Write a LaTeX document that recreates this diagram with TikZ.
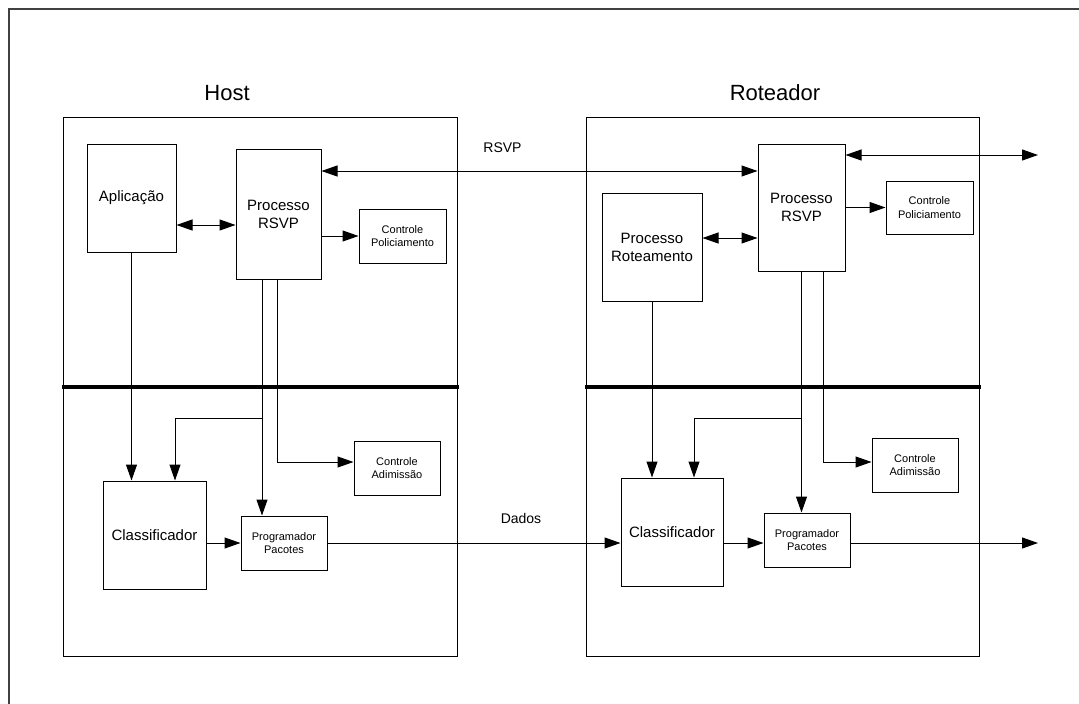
\documentclass[tikz,border=0pt]{standalone}
\usepackage{fontspec}
\setmainfont{Liberation Sans}
\usetikzlibrary{arrows.meta}
\begin{document}
\begin{tikzpicture}[x=1pt,y=-1pt,
  box/.style={draw, line width=1pt, inner sep=0pt, align=center, anchor=center},
  big/.style={font=\fontsize{15}{18}\selectfont},
  small/.style={font=\fontsize{11}{13.3}\selectfont},
  conn/.style={line width=1pt},
  tip/.style={-{Triangle[length=16pt,width=11pt]}},
  dbl/.style={{Triangle[length=16pt,width=11pt]}-{Triangle[length=16pt,width=11pt]}},
  thick bar/.style={line width=4pt},
  title/.style={font=\fontsize{22}{26}\selectfont},
  lbl/.style={font=\fontsize{14}{17}\selectfont}]
\useasboundingbox (0,0) rectangle (1079,704);
\fill[white] (0,0) rectangle (1079,704);
% outer frame (right and bottom edges lie outside the picture)
\draw[line width=1.5pt, black!75] (9,704) -- (9,9) -- (1079,9);

% containers
\node[box, minimum width=394pt, minimum height=539pt] (host) at (260,386.5) {};
\node[box, minimum width=393pt, minimum height=539pt] (rout) at (782.5,386.5) {};
\node[title] (thost) at (227,93) {Host};
\node[title] (trout) at (775,93) {Roteador};

% host boxes
\node[box, big, minimum width=89pt, minimum height=108pt] (app) at (131.5,198) {Aplicação};
\node[box, big, minimum width=85pt, minimum height=130pt] (hrsvp) at (278.5,214) {Processo\\RSVP};
\node[box, small, minimum width=87pt, minimum height=54pt] (hpol) at (402.5,236) {Controle\\Policiamento};
\node[box, big, minimum width=103pt, minimum height=108pt] (hcls) at (154.5,535) {Classificador};
\node[box, small, minimum width=86pt, minimum height=54pt] (hprog) at (284,543) {Programador\\Pacotes};
\node[box, small, minimum width=86pt, minimum height=54pt] (hadm) at (397,468) {Controle\\Adimissão};

% router boxes
\node[box, big, minimum width=87pt, minimum height=127pt] (rrsvp) at (801.5,207.5) {Processo\\RSVP};
\node[box, big, minimum width=100pt, minimum height=108pt] (rrot) at (652,247) {Processo\\Roteamento};
\node[box, small, minimum width=87pt, minimum height=53pt] (rpol) at (929.5,207.5) {Controle\\Policiamento};
\node[box, big, minimum width=102pt, minimum height=108pt] (rcls) at (672,532) {Classificador};
\node[box, small, minimum width=86pt, minimum height=54pt] (rprog) at (807,540) {Programador\\Pacotes};
\node[box, small, minimum width=86pt, minimum height=54pt] (radm) at (915,465) {Controle\\Adimissão};

% labels
\node[lbl] (lrsvp) at (502.5,148) {RSVP};
\node[lbl] (ldados) at (521,518) {Dados};

% helper coordinates
\coordinate (yBar) at (0,387);
\coordinate (yApp) at (0,225);
\coordinate (yRsvp) at (0,171);
\coordinate (yOut) at (0,155);
\coordinate (yRot) at (0,238);
\coordinate (yBr) at (0,418);
\coordinate (yAdm) at (0,462);
\coordinate (yDat) at (0,543);
\coordinate (xH1) at (262,0);
\coordinate (xH2) at (277,0);
\coordinate (xH3) at (175,0);
\coordinate (xR2) at (823,0);
\coordinate (xR3) at (694,0);
\coordinate (rsvpEnd) at (1038,155);
\coordinate (datEnd) at (1038,543);

% thick separator bars
\draw[thick bar] ([xshift=-1pt]host.west |- yBar) -- ([xshift=1pt]host.east |- yBar);
\draw[thick bar] ([xshift=-1pt]rout.west |- yBar) -- ([xshift=1pt]rout.east |- yBar);

% host connectors
\draw[conn, dbl] (app.east |- yApp) -- (hrsvp.west |- yApp);
\draw[conn, tip] (hrsvp.east |- hpol.west) -- (hpol.west);
\draw[conn, dbl] (hrsvp.east |- yRsvp) -- (rrsvp.west |- yRsvp);
\draw[conn, tip] (app.south) -- (app.south |- hcls.north);
\draw[conn, tip] (hrsvp.south -| xH1) -- (xH1 |- hprog.north);
\draw[conn, tip] (xH1 |- yBr) -| (xH3 |- hcls.north);
\draw[conn, tip] (hrsvp.south -| xH2) |- (hadm.west |- yAdm);
\draw[conn, tip] (hcls.east |- hprog.west) -- (hprog.west);
\draw[conn, tip] (hprog.east) -- (rcls.west |- hprog.east);

% router connectors
\draw[conn, dbl] (rrsvp.east |- yOut) -- (rsvpEnd);
\draw[conn, dbl] (rrot.east |- yRot) -- (rrsvp.west |- yRot);
\draw[conn, tip] (rrsvp.east |- rpol.west) -- (rpol.west);
\draw[conn, tip] (rrot.south) -- (rrot.south |- rcls.north);
\draw[conn, tip] (rrsvp.south) -- (rrsvp.south |- rprog.north);
\draw[conn, tip] (rrsvp.south |- yBr) -| (xR3 |- rcls.north);
\draw[conn, tip] (rrsvp.south -| xR2) |- (radm.west |- yAdm);
\draw[conn, tip] (rcls.east |- yDat) -- (rprog.west |- yDat);
\draw[conn, tip] (rprog.east |- yDat) -- (datEnd);
\end{tikzpicture}
\end{document}
